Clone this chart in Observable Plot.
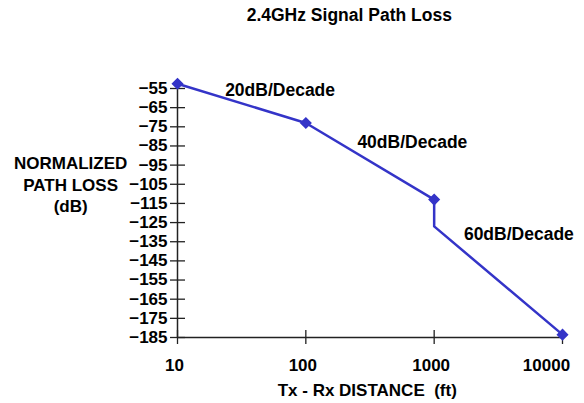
<!DOCTYPE html>
<html>
<head>
<meta charset="utf-8">
<script src="https://cdn.jsdelivr.net/npm/d3@7"></script>
<script src="https://cdn.jsdelivr.net/npm/@observablehq/plot@0.6"></script>
<style>
  html, body { margin: 0; padding: 0; background: #fff; }
  svg { font-family: "Liberation Sans", Arial, sans-serif; }
</style>
</head>
<body>
<div id="chart"></div>
<script>
const distances = [10, 100, 1000, 1000, 10000];
const pathLoss = [-52.5, -73, -113, -127, -183.5];
const markerIdx = [0, 1, 2, 4];
const yTicks = [-55, -65, -75, -85, -95, -105, -115, -125, -135, -145, -155, -165, -175, -185];
const xTicks = [10, 100, 1000, 10000];
const xTicksInner = [10, 100, 1000];
const xTicksLast = [10000];
const slopeLabels = ["20dB/Decade", "40dB/Decade", "60dB/Decade"];
const slopeX = [63, 676, 4570];
const slopeY = [-56, -83.3, -131];

const line = distances.map((d, i) => ({x: d, y: pathLoss[i]}));
const markers = markerIdx.map(i => line[i]);
const notes = slopeLabels.map((t, i) => ({t, x: slopeX[i], y: slopeY[i]}));

const blue = "#3434c8";
const axisColor = "#222";
const font = "Liberation Sans, Arial, sans-serif";

const chart = Plot.plot({
  width: 584,
  height: 403,
  marginLeft: 177,
  marginRight: 22,
  marginTop: 88,
  marginBottom: 66,
  style: {fontFamily: font, fontWeight: "bold", fontSize: "17px", color: "#000", background: "#fff"},
  x: {type: "log", domain: [10, 10000], ticks: xTicks, tickFormat: d => String(d)},
  y: {domain: [-185, -55], ticks: yTicks, tickFormat: d => String(d)},
  marks: [
    Plot.axisY(yTicks, {tickSize: 0, tickPadding: 10, fontSize: 17, fontWeight: "bold", fill: "#000", label: null}),
    Plot.axisY(yTicks, {tickSize: 15, dx: 8, text: null, stroke: axisColor, strokeWidth: 1.3, label: null}),
    Plot.axisX(xTicksInner, {tickSize: 0, tickPadding: 21, dx: -3, fontSize: 17, fontWeight: "bold", fill: "#000", label: null, tickFormat: d => String(d)}),
    Plot.axisX(xTicksLast, {tickSize: 0, tickPadding: 21, dx: -16, fontSize: 17, fontWeight: "bold", fill: "#000", label: null, tickFormat: d => String(d)}),
    Plot.axisX(xTicks, {tickSize: 14, dy: -7, text: null, stroke: axisColor, strokeWidth: 1.3, label: null}),
    Plot.ruleX([10], {stroke: axisColor, strokeWidth: 1.5}),
    Plot.ruleY([-185], {stroke: axisColor, strokeWidth: 1.5}),
    Plot.line(line, {x: "x", y: "y", stroke: blue, strokeWidth: 2.5}),
    Plot.dot(markers, {x: "x", y: "y", symbol: "diamond2", r: 4.5, fill: blue, stroke: blue}),
    Plot.text(notes, {x: "x", y: "y", text: "t", fontSize: 17.5, fontWeight: "bold", fill: "#000"}),
    Plot.text(["2.4GHz Signal Path Loss"], {x: 218, frameAnchor: "top", lineAnchor: "middle", dy: -73, fontSize: 17.5, fontWeight: "bold", fill: "#000"}),
    Plot.text(["Tx - Rx DISTANCE\u00a0 (ft)"], {x: 301, frameAnchor: "bottom", lineAnchor: "middle", dy: 53, fontSize: 17, fontWeight: "bold", fill: "#000"}),
    Plot.text(["NORMALIZED\nPATH LOSS\n(dB)"], {x: 1.47, y: -104.7, fontSize: 17, fontWeight: "bold", lineHeight: 1.27, fill: "#000"})
  ]
});
document.getElementById("chart").appendChild(chart);
</script>
</body>
</html>
